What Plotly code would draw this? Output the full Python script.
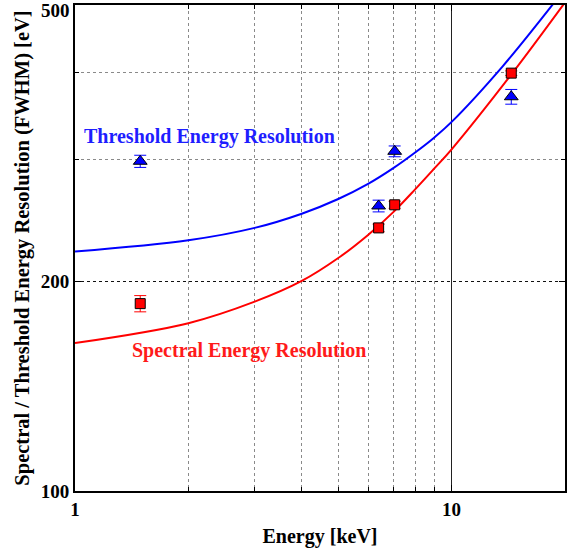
import plotly.graph_objects as go

# ---- data ----
meas_energy = [1.49, 6.4, 7.06, 14.4]          # keV
threshold_fwhm = [298, 257, 308, 369]          # eV (blue triangles)
threshold_err = [6, 5, 5.5, 9]
spectral_fwhm = [186, 239, 258, 399]           # eV (red squares)
spectral_err = [5, 3, 3, 3]

thr_curve_e = [1, 2, 3, 4, 5, 6, 7, 8, 9, 10, 13.68, 18.8]
thr_curve_y = [221, 229.4, 239, 250.5, 263, 276.5, 291.3, 306.8, 322.5, 339.5, 408.5, 505.5]
spe_curve_e = [1, 2, 3, 4, 5, 6, 7, 8, 9, 10, 14.46, 19.87]
spe_curve_y = [163.2, 174.3, 187.2, 200.5, 216.3, 233.5, 251.8, 271.5, 291, 310, 398.3, 501.8]

x_major = [1, 10]
x_minor = [2, 3, 4, 5, 6, 7, 8, 9]
y_major = [100, 200, 500]
y_minor = [300, 400]

BLUE = "#0000ff"
RED = "#ff0000"
FONT = "Liberation Serif"

fig = go.Figure()
fig.add_trace(go.Scatter(x=thr_curve_e, y=thr_curve_y, mode="lines",
                         line=dict(color=BLUE, width=2, shape="spline", smoothing=1),
                         showlegend=False, hoverinfo="skip"))
fig.add_trace(go.Scatter(x=spe_curve_e, y=spe_curve_y, mode="lines",
                         line=dict(color=RED, width=2, shape="spline", smoothing=1),
                         showlegend=False, hoverinfo="skip"))
fig.add_trace(go.Scatter(x=meas_energy, y=threshold_fwhm, mode="markers",
                         marker=dict(symbol="triangle-up", size=12, color=BLUE,
                                     line=dict(color="black", width=1)),
                         error_y=dict(type="data", array=threshold_err, color=BLUE,
                                      thickness=1, width=6),
                         showlegend=False))
fig.add_trace(go.Scatter(x=meas_energy, y=spectral_fwhm, mode="markers",
                         marker=dict(symbol="square", size=10, color=RED,
                                     line=dict(color="black", width=1)),
                         error_y=dict(type="data", array=spectral_err, color=RED,
                                      thickness=1, width=6),
                         showlegend=False))

fig.add_annotation(text="Threshold Energy Resolution", xref="paper", yref="paper",
                   x=0.2745, y=0.7295, xanchor="center", yanchor="middle", showarrow=False,
                   font=dict(family=FONT, size=20, color="#1e1eff", weight="bold"))
fig.add_annotation(text="Spectral Energy Resolution", xref="paper", yref="paper",
                   x=0.355, y=0.289, xanchor="center", yanchor="middle", showarrow=False,
                   font=dict(family=FONT, size=20, color="#ff1a1a", weight="bold"))
# top tick label (drawn just below its tick so it stays inside the page)
fig.add_annotation(text=str(y_major[-1]), xref="paper", yref="paper",
                   x=0, y=1, xanchor="right", yanchor="middle",
                   xshift=-3, yshift=-5, showarrow=False,
                   font=dict(family=FONT, size=19, color="black", weight="bold"))

fig.update_xaxes(type="log", range=[0, 1.30103],
                 tickmode="array", tickvals=x_major, ticktext=[str(v) for v in x_major],
                 showgrid=True, gridcolor="#222222", gridwidth=1,
                 ticks="inside", ticklen=6, tickcolor="black",
                 minor=dict(tickmode="array", tickvals=x_minor, showgrid=True,
                            gridcolor="#8a8a8a", griddash="dot", gridwidth=1,
                            ticks="inside", ticklen=4, tickcolor="black"),
                 showline=True, linecolor="black", linewidth=2, mirror="ticks",
                 zeroline=False,
                 tickfont=dict(family=FONT, size=19, color="black", weight="bold"),
                 title=dict(text="Energy [keV]", standoff=10,
                            font=dict(family=FONT, size=20, color="black", weight="bold")))
fig.update_yaxes(type="log", range=[2, 2.69897],
                 tickmode="array", tickvals=y_major,
                 ticktext=[str(v) for v in y_major[:-1]] + [""],
                 showgrid=True, gridcolor="#111111", griddash="dot", gridwidth=1,
                 ticks="inside", ticklen=6, tickcolor="black",
                 minor=dict(tickmode="array", tickvals=y_minor, showgrid=True,
                            gridcolor="#8a8a8a", griddash="dot", gridwidth=1,
                            ticks="inside", ticklen=4, tickcolor="black"),
                 showline=True, linecolor="black", linewidth=2, mirror="ticks",
                 zeroline=False,
                 tickfont=dict(family=FONT, size=19, color="black", weight="bold"),
                 title=dict(text="Spectral / Threshold Energy Resolution (FWHM) [eV]", standoff=6,
                            font=dict(family=FONT, size=20.5, color="black", weight="bold")))

fig.update_layout(width=570, height=556, autosize=False,
                  margin=dict(l=75, r=5, t=3, b=65),
                  paper_bgcolor="white", plot_bgcolor="white",
                  font=dict(family=FONT, color="black"))

fig.write_html("out.html")
